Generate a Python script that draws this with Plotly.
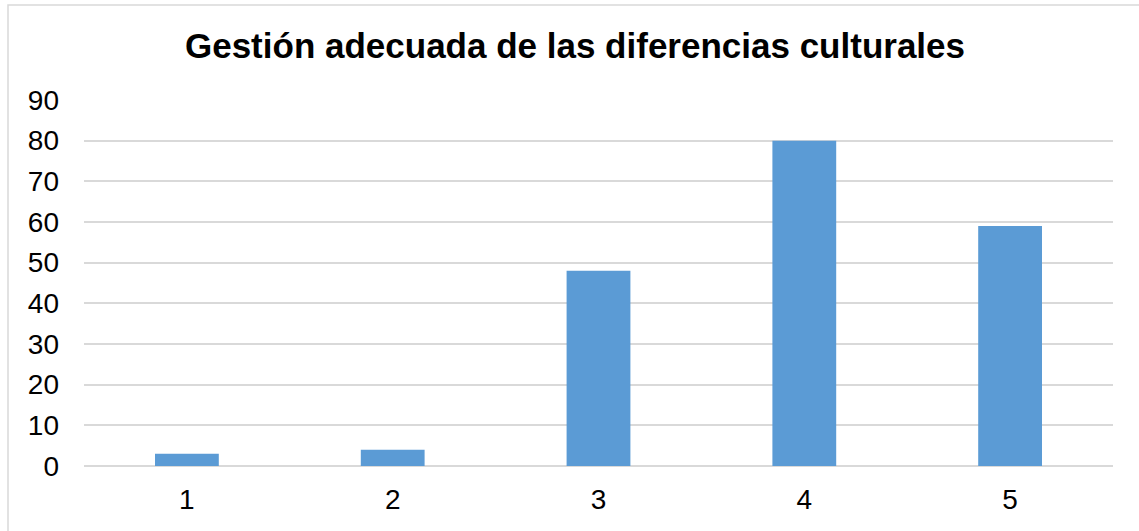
import plotly.graph_objects as go

categories = ["1", "2", "3", "4", "5"]
values = [3, 4, 48, 80, 59]
y_ticks = [0, 10, 20, 30, 40, 50, 60, 70, 80, 90]
title_text = "Gestión adecuada de las diferencias culturales"

W, H = 1139, 531
L, R, T, B = 84, 26, 100, 65
pw, ph = W - L - R, H - T - B

def px_x(x):
    return (x - L) / pw

def px_y(y):
    return (H - B - y) / ph

fig = go.Figure(
    go.Bar(
        x=categories,
        y=values,
        marker=dict(color="#5B9BD5", line=dict(width=0)),
        width=0.31,
    )
)

fig.update_layout(
    width=W,
    height=H,
    margin=dict(l=L, r=R, t=T, b=B),
    paper_bgcolor="white",
    plot_bgcolor="white",
    font=dict(family="Liberation Sans, Arial, sans-serif", color="#000000"),
    showlegend=False,
    title=dict(
        text=f"<b>{title_text}</b>",
        x=px_x(575),
        xanchor="center",
        xref="paper",
        y=(H - 46) / H,
        yref="container",
        yanchor="middle",
        font=dict(size=35, color="#000000"),
    ),
    xaxis=dict(
        type="category",
        showgrid=False,
        showline=False,
        zeroline=False,
        ticks="",
        tickfont=dict(size=28),
        ticklabelstandoff=14,
    ),
    yaxis=dict(
        range=[0, 90],
        tickvals=y_ticks,
        showgrid=True,
        gridcolor="#d9d9d9",
        gridwidth=1.5,
        zeroline=True,
        zerolinecolor="#d9d9d9",
        zerolinewidth=1.5,
        showline=False,
        ticks="",
        tickfont=dict(size=28),
        ticklabelstandoff=24,
    ),
    shapes=[
        dict(
            type="rect",
            xref="paper",
            yref="paper",
            x0=px_x(8),
            x1=px_x(1160),
            y0=px_y(560),
            y1=px_y(5),
            line=dict(color="#d9d9d9", width=1.5),
            fillcolor="rgba(0,0,0,0)",
            layer="below",
        )
    ],
)

fig.write_html("out.html")
